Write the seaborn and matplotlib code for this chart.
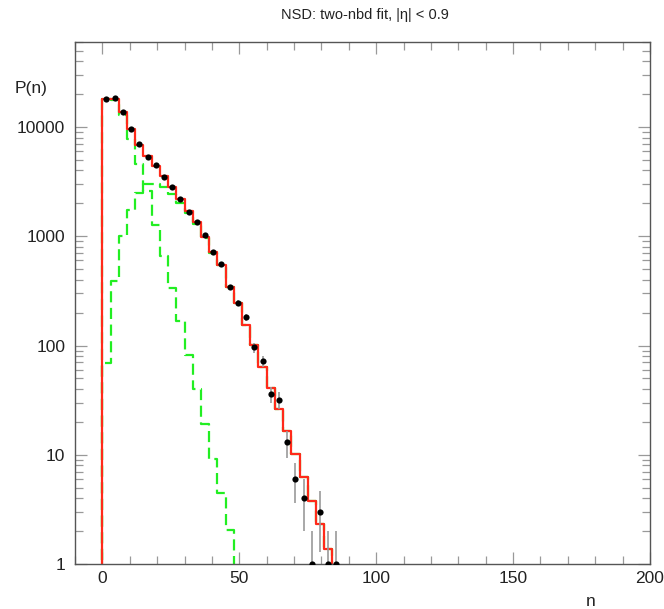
import numpy as np
import pandas as pd
import matplotlib
matplotlib.use("Agg")
import matplotlib.pyplot as plt
from matplotlib.ticker import MultipleLocator, FixedLocator, FixedFormatter, LogLocator, NullFormatter
import seaborn as sns

# multiplicity bins, width 3
edges = np.arange(0, 88, 3)

# measured distribution (points) and their errors
data_counts = [18000, 18550, 13700, 9640, 6920, 5370, 4480, 3520, 2840, 2180,
               1670, 1340, 1020, 713, 558, 341, 245, 182, 96, 72,
               36, 32, 13, 6, 4, 1, 3, 1, 1]
data_errors = [134, 136, 117, 98, 83, 73, 67, 59, 53, 47,
               41, 37, 32, 27, 24, 18, 16, 13, 10, 8.5,
               6, 5.6, 3.6, 2.4, 2, 1, 1.7, 1, 1]

# two-nbd fit: total and the two components
fit_total = [18200, 18200, 13800, 9600, 6900, 5400, 4370, 3530, 2840, 2200,
             1700, 1340, 978, 713, 550, 342, 245, 153, 102, 64,
             40.8, 26, 16.6, 10.1, 6.3, 3.8, 2.3, 1.37]
fit_nbd1 = [18100, 17800, 12800, 7700, 4600, 2570, 1280, 656, 337, 166,
            82, 40, 19.1, 9.2, 4.45, 2.05]
fit_nbd2 = [69, 387, 1000, 1750, 2500, 2980, 3000, 2850, 2450, 2030,
            1620, 1300, 959, 704, 545, 340, 245, 153, 102, 64,
            40.8, 26, 16.6, 10.1, 6.3, 3.8, 2.3, 1.37]

title = "NSD: two-nbd fit, |\u03b7| < 0.9"

sns.set_style("ticks")
plt.rcParams['font.family'] = ['Liberation Sans', 'DejaVu Sans']


def step_frame(values):
    # outline of a histogram that starts and ends on the floor
    n = len(values)
    xs = np.concatenate([[edges[0]], edges[:n], [edges[n]]])
    ys = np.concatenate([[0.1], values, [0.1]])
    return pd.DataFrame({'n': xs, 'P': ys})


fig = plt.figure(figsize=(6.64, 6.09), dpi=100)
ax = fig.add_axes([75 / 664, 45 / 609, 575 / 664, 522 / 609])

green = '#22ee22'
sns.lineplot(data=step_frame(fit_nbd2), x='n', y='P', estimator=None, sort=False,
             drawstyle='steps-post', color=green, lw=1.6, linestyle=(0, (5, 2.5)), ax=ax)
sns.lineplot(data=step_frame(fit_nbd1), x='n', y='P', estimator=None, sort=False,
             drawstyle='steps-post', color=green, lw=1.6, linestyle=(0, (5, 2.5)), ax=ax)
sns.lineplot(data=step_frame(fit_total), x='n', y='P', estimator=None, sort=False,
             drawstyle='steps-post', color='#ff2a1a', lw=1.6, ax=ax)

centers = edges[:-1] + 1.5
ax.errorbar(centers, data_counts, yerr=data_errors, fmt='none', ecolor='#999999',
            elinewidth=1.2, capsize=0, zorder=4)
sns.scatterplot(x=centers, y=data_counts, color='black', s=20, linewidth=0,
                zorder=5, ax=ax)

ax.set_yscale('log')
ax.set_xlim(-10, 200)
ax.set_ylim(1, 6e4)

ax.xaxis.set_major_locator(MultipleLocator(50))
ax.xaxis.set_minor_locator(MultipleLocator(10))
ax.yaxis.set_major_locator(FixedLocator([1, 10, 100, 1000, 10000]))
ax.yaxis.set_major_formatter(FixedFormatter(['1', '10', '100', '1000', '10000']))
ax.yaxis.set_minor_locator(LogLocator(base=10, subs=range(2, 10)))
ax.yaxis.set_minor_formatter(NullFormatter())

ax.tick_params(which='both', direction='in', top=True, right=True,
               color='#999999', width=0.9, labelcolor='#222222', labelsize=12.5)
ax.tick_params(which='major', length=8.5)
ax.tick_params(which='minor', length=5.5)
ax.tick_params(axis='y', pad=7)
ax.tick_params(axis='x', pad=5)
for s in ax.spines.values():
    s.set_color('#555555')
    s.set_linewidth(1.0)

ax.set_xlabel('')
ax.set_ylabel('')
fig.text(15 / 664, 1 - 88 / 609, 'P(n)', ha='left', va='center', size=12.5, color='#222222')
fig.text(591 / 664, 1 - 601 / 609, 'n', ha='center', va='center', size=12.5, color='#222222')
fig.text(365 / 664, 1 - 15 / 609, title, ha='center', va='center', size=10.5, color='#222222')

fig.savefig('out.png', dpi=100)
